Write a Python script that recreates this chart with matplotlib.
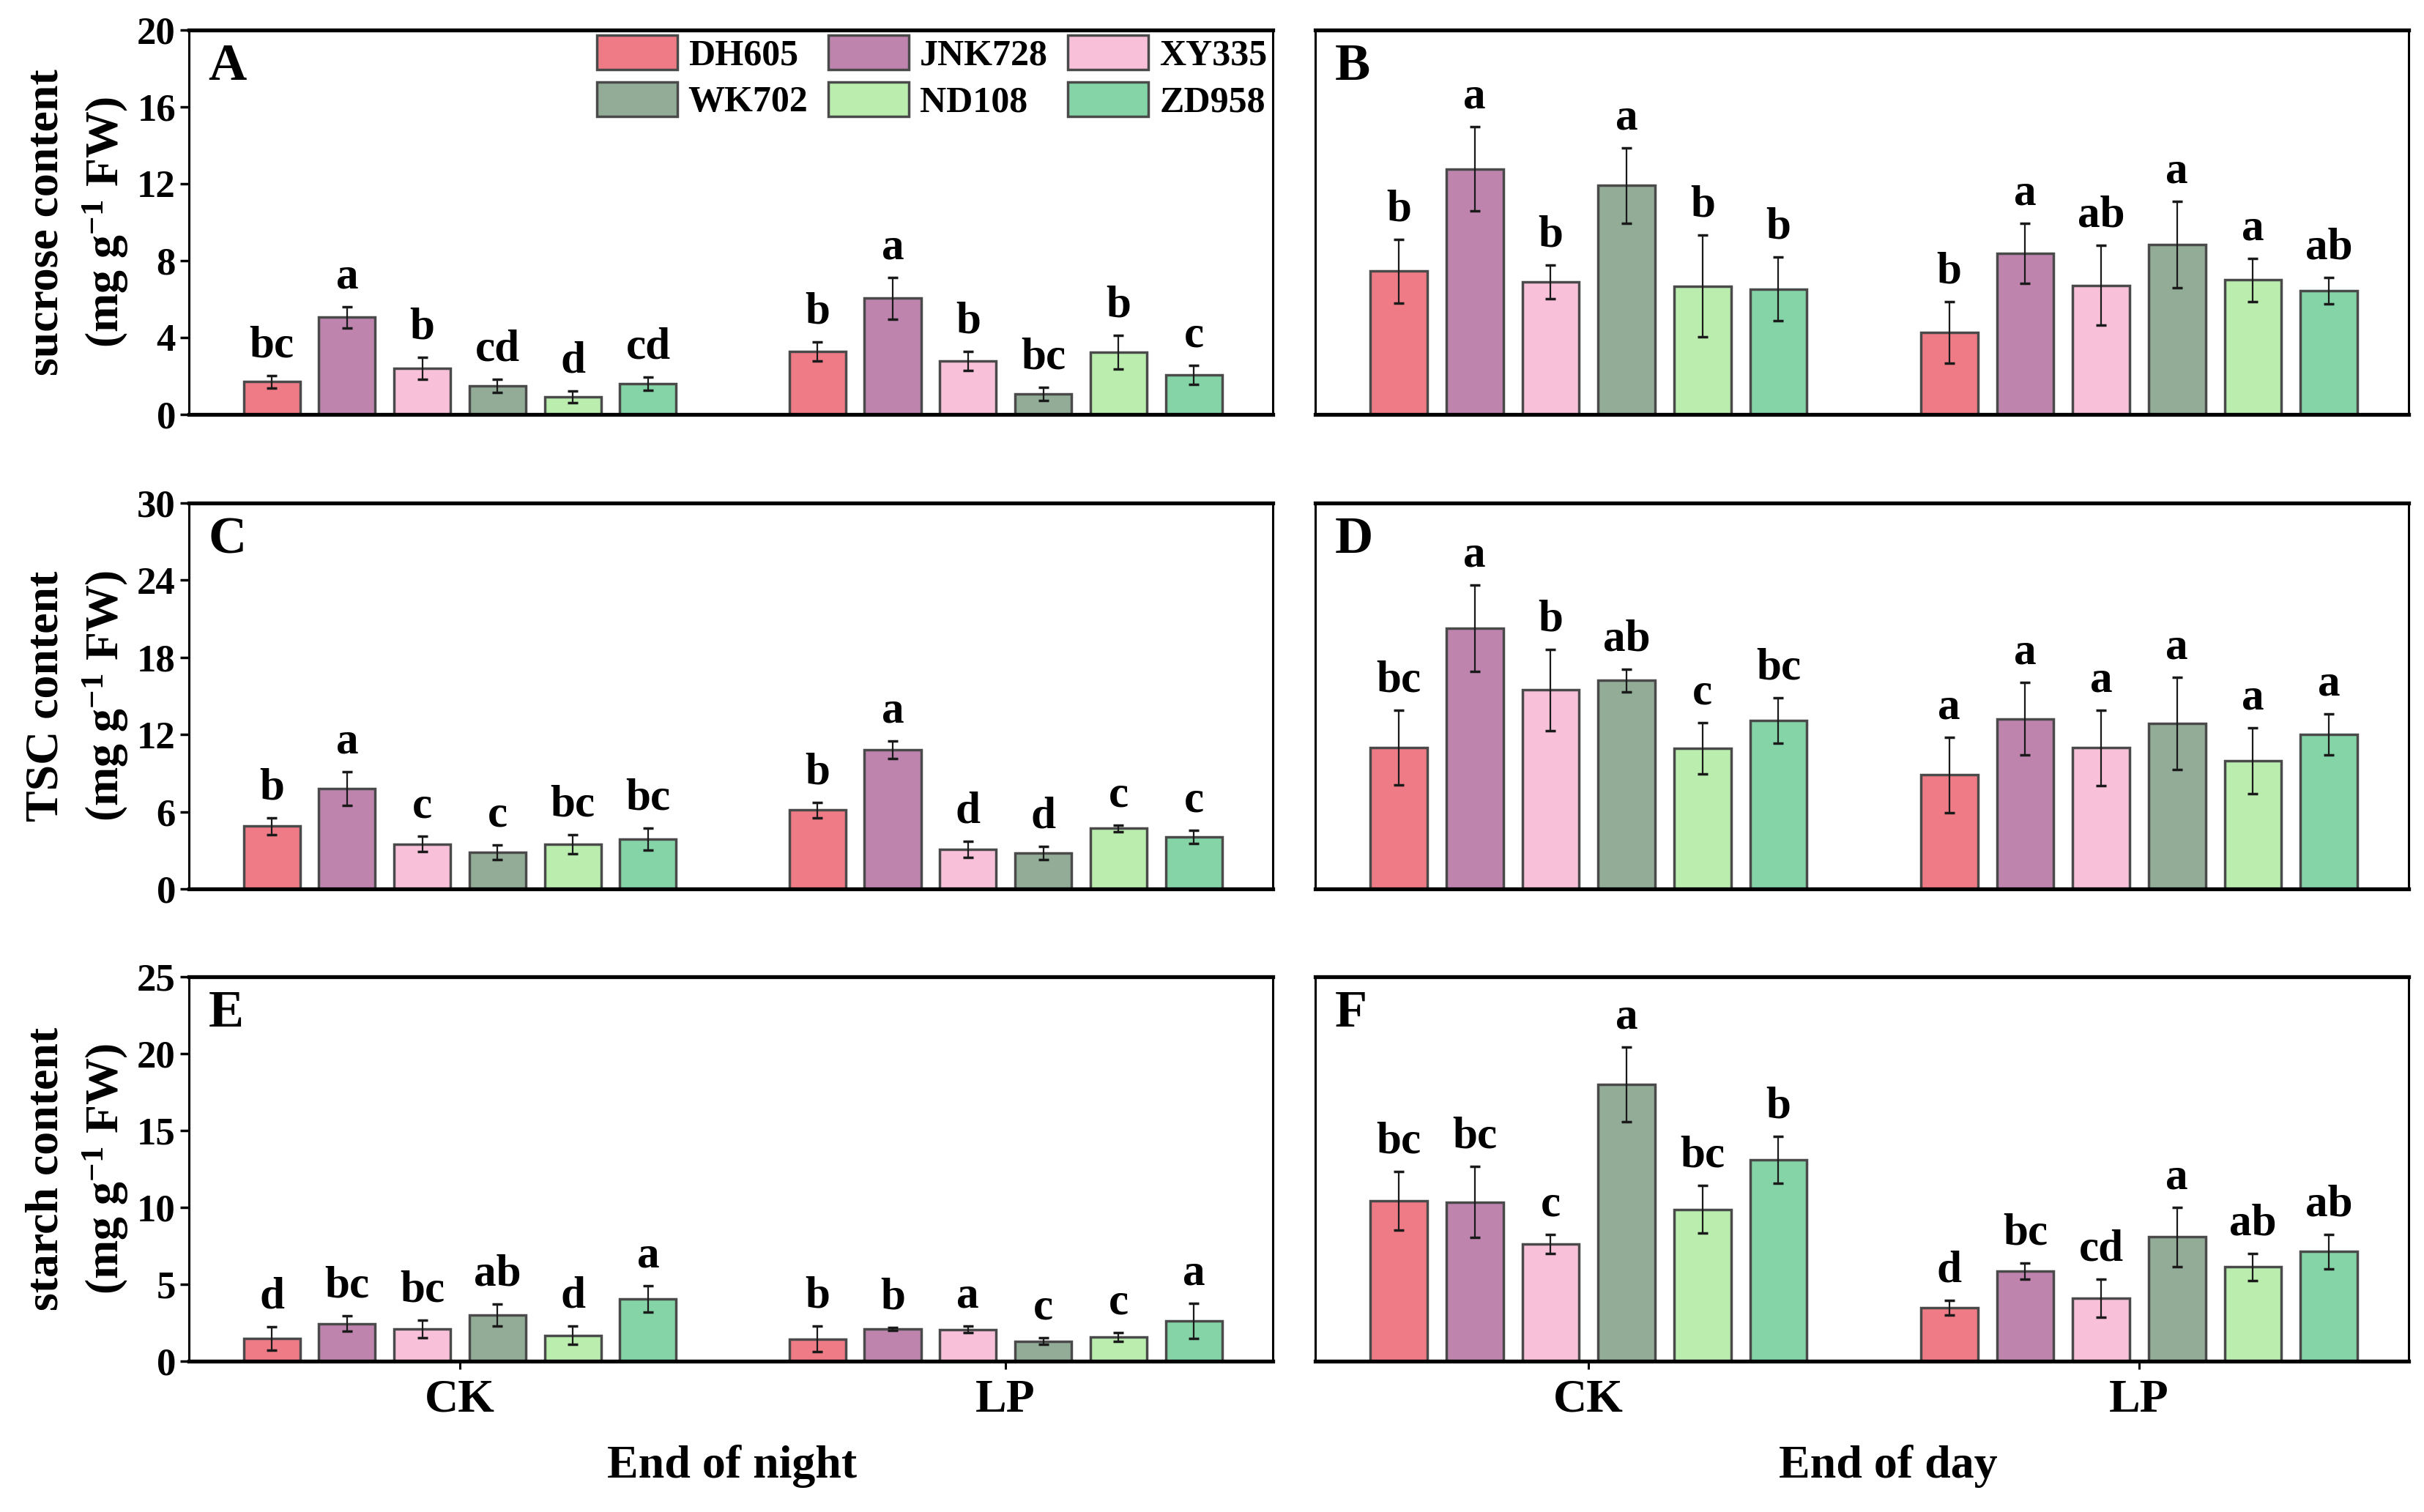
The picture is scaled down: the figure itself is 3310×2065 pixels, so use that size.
import numpy as np
import matplotlib
matplotlib.use("Agg")
import matplotlib.pyplot as plt
from matplotlib.patches import Patch

plt.rcParams['font.family'] = ['Liberation Serif', 'DejaVu Serif']
plt.rcParams['font.weight'] = 'bold'
plt.rcParams['mathtext.fontset'] = 'custom'
plt.rcParams['mathtext.rm'] = 'Liberation Serif:bold'
plt.rcParams['mathtext.bf'] = 'Liberation Serif:bold'
plt.rcParams['mathtext.default'] = 'rm'

# ---------------- data ----------------
genotypes = ['DH605', 'JNK728', 'XY335', 'WK702', 'ND108', 'ZD958']
treatments = ['CK', 'LP']
colors = ['#EF7B86', '#BE84AE', '#F9C0DA', '#92AC98', '#BAEDAE', '#84D4A7']

# A: sucrose, end of night
sucA_ck = [1.70, 5.05, 2.40, 1.48, 0.92, 1.60]
sucA_ck_err = [0.32, 0.55, 0.58, 0.35, 0.30, 0.36]
sucA_lp = [3.28, 6.05, 2.78, 1.07, 3.25, 2.05]
sucA_lp_err = [0.50, 1.08, 0.50, 0.33, 0.88, 0.50]
sucA_ck_let = ['bc', 'a', 'b', 'cd', 'd', 'cd']
sucA_lp_let = ['b', 'a', 'b', 'bc', 'b', 'c']

# B: sucrose, end of day
sucB_ck = [7.45, 12.78, 6.90, 11.92, 6.68, 6.53]
sucB_ck_err = [1.65, 2.20, 0.88, 1.96, 2.65, 1.66]
sucB_lp = [4.25, 8.38, 6.72, 8.83, 7.00, 6.45]
sucB_lp_err = [1.60, 1.58, 2.08, 2.25, 1.13, 0.68]
sucB_ck_let = ['b', 'a', 'b', 'a', 'b', 'b']
sucB_lp_let = ['b', 'a', 'ab', 'a', 'a', 'ab']

# C: TSC, end of night
tscC_ck = [4.88, 7.80, 3.48, 2.86, 3.50, 3.88]
tscC_ck_err = [0.66, 1.30, 0.60, 0.57, 0.74, 0.87]
tscC_lp = [6.12, 10.80, 3.06, 2.80, 4.70, 4.05]
tscC_lp_err = [0.60, 0.68, 0.64, 0.50, 0.26, 0.52]
tscC_ck_let = ['b', 'a', 'c', 'c', 'bc', 'bc']
tscC_lp_let = ['b', 'a', 'd', 'd', 'c', 'c']

# D: TSC, end of day
tscD_ck = [10.98, 20.27, 15.46, 16.20, 10.92, 13.10]
tscD_ck_err = [2.90, 3.38, 3.15, 0.88, 2.00, 1.75]
tscD_lp = [8.86, 13.23, 10.96, 12.88, 9.95, 12.00]
tscD_lp_err = [2.95, 2.82, 2.92, 3.60, 2.55, 1.60]
tscD_ck_let = ['bc', 'a', 'b', 'ab', 'c', 'bc']
tscD_lp_let = ['a', 'a', 'a', 'a', 'a', 'a']

# E: starch, end of night
staE_ck = [1.47, 2.43, 2.10, 3.00, 1.68, 4.06]
staE_ck_err = [0.75, 0.50, 0.58, 0.70, 0.60, 0.85]
staE_lp = [1.45, 2.10, 2.07, 1.30, 1.57, 2.62]
staE_lp_err = [0.84, 0.08, 0.23, 0.22, 0.30, 1.12]
staE_ck_let = ['d', 'bc', 'bc', 'ab', 'd', 'a']
staE_lp_let = ['b', 'b', 'a', 'c', 'c', 'a']

# F: starch, end of day
staF_ck = [10.44, 10.35, 7.60, 18.00, 9.87, 13.08]
staF_ck_err = [1.90, 2.30, 0.62, 2.45, 1.54, 1.52]
staF_lp = [3.47, 5.84, 4.08, 8.08, 6.12, 7.13]
staF_lp_err = [0.47, 0.52, 1.23, 1.94, 0.90, 1.12]
staF_ck_let = ['bc', 'bc', 'c', 'a', 'bc', 'b']
staF_lp_let = ['d', 'bc', 'cd', 'a', 'ab', 'ab']

ylabels = ['sucrose content', 'TSC content', 'starch content']
yticks_list = [np.arange(0, 21, 4), np.arange(0, 31, 6), np.arange(0, 26, 5)]
panel_letters = [['A', 'B'], ['C', 'D'], ['E', 'F']]

panels = [
    [(sucA_ck, sucA_ck_err, sucA_ck_let, sucA_lp, sucA_lp_err, sucA_lp_let),
     (sucB_ck, sucB_ck_err, sucB_ck_let, sucB_lp, sucB_lp_err, sucB_lp_let)],
    [(tscC_ck, tscC_ck_err, tscC_ck_let, tscC_lp, tscC_lp_err, tscC_lp_let),
     (tscD_ck, tscD_ck_err, tscD_ck_let, tscD_lp, tscD_lp_err, tscD_lp_let)],
    [(staE_ck, staE_ck_err, staE_ck_let, staE_lp, staE_lp_err, staE_lp_let),
     (staF_ck, staF_ck_err, staF_ck_let, staF_lp, staF_lp_err, staF_lp_let)],
]

# ---------------- layout ----------------
fig = plt.figure(figsize=(33.1, 20.65), dpi=100)
W, H = 3310, 2065
col_px = [(258, 1480), (1796, 1493)]
row_px = [(41, 525), (687, 527), (1334, 525)]

group_centers = [2.5, 9.75]
offsets = np.arange(6)
bar_w = 0.75

for r in range(3):
    for c in range(2):
        x0, w = col_px[c]
        y0, h = row_px[r]
        ax = fig.add_axes([x0 / W, 1 - (y0 + h) / H, w / W, h / H])
        ck, ck_e, ck_l, lp, lp_e, lp_l = panels[r][c]
        for g, (vals, errs, lets) in enumerate([(ck, ck_e, ck_l), (lp, lp_e, lp_l)]):
            xs = group_centers[g] - 2.5 + offsets
            ax.bar(xs, vals, width=bar_w, color=colors, edgecolor='#4a4a4a',
                   linewidth=2.5, zorder=2)
            ax.errorbar(xs, vals, yerr=errs, fmt='none', ecolor='#1a1a1a',
                        elinewidth=1.6, capsize=5, capthick=2.5, zorder=3)
            for xi, v, e, t in zip(xs, vals, errs, lets):
                ax.annotate(t, (xi, v + e), xytext=(0, 9), textcoords='offset points',
                            ha='center', va='bottom', fontsize=44, fontweight='bold')
        ax.set_xlim(-1.1, 13.3)
        ax.set_ylim(yticks_list[r][0], yticks_list[r][-1])
        ax.set_yticks(yticks_list[r])
        for side in ['top', 'bottom']:
            ax.spines[side].set_linewidth(3.8)
        for side in ['left', 'right']:
            ax.spines[side].set_linewidth(2.2)
        ax.text(0.018, 0.965, panel_letters[r][c], transform=ax.transAxes,
                ha='left', va='top', fontsize=52, fontweight='bold')
        if c == 0:
            ax.tick_params(axis='y', direction='out', length=9, width=2.5,
                           labelsize=38, pad=4)
            ax.set_ylabel(ylabels[r] + '\n(mg g$^{-1}$ FW)', fontsize=46,
                          fontweight='bold', linespacing=1.35)
            ax.yaxis.label.set_va('center')
            ax.yaxis.set_label_coords(-0.1025, 0.5)
        else:
            ax.tick_params(axis='y', left=False, labelleft=False)
        if r == 2:
            ax.set_xticks(group_centers)
            ax.set_xticklabels(treatments)
            ax.tick_params(axis='x', direction='out', length=8, width=2.2,
                           labelsize=46, pad=10)
        else:
            ax.tick_params(axis='x', bottom=False, labelbottom=False)
        if r == 0 and c == 0:
            order = [0, 3, 1, 4, 2, 5]
            handles = [Patch(facecolor=colors[i], edgecolor='#4a4a4a', linewidth=2.5,
                             label=genotypes[i]) for i in order]
            ax.legend(handles=handles, ncol=3, loc='upper right',
                      bbox_to_anchor=(1.0, 1.0), frameon=False, fontsize=36,
                      handlelength=2.2, handleheight=1.05, handletextpad=0.3,
                      columnspacing=0.55, labelspacing=0.25, borderpad=0.0,
                      borderaxespad=0.15, prop={'weight': 'bold', 'size': 36})

fig.text(1000 / W, 1 - 2003 / H, 'End of night', ha='center', va='center',
         fontsize=46, fontweight='bold')
fig.text(2578 / W, 1 - 2003 / H, 'End of day', ha='center', va='center',
         fontsize=46, fontweight='bold')

fig.savefig('out.png', dpi=100, facecolor='white')
